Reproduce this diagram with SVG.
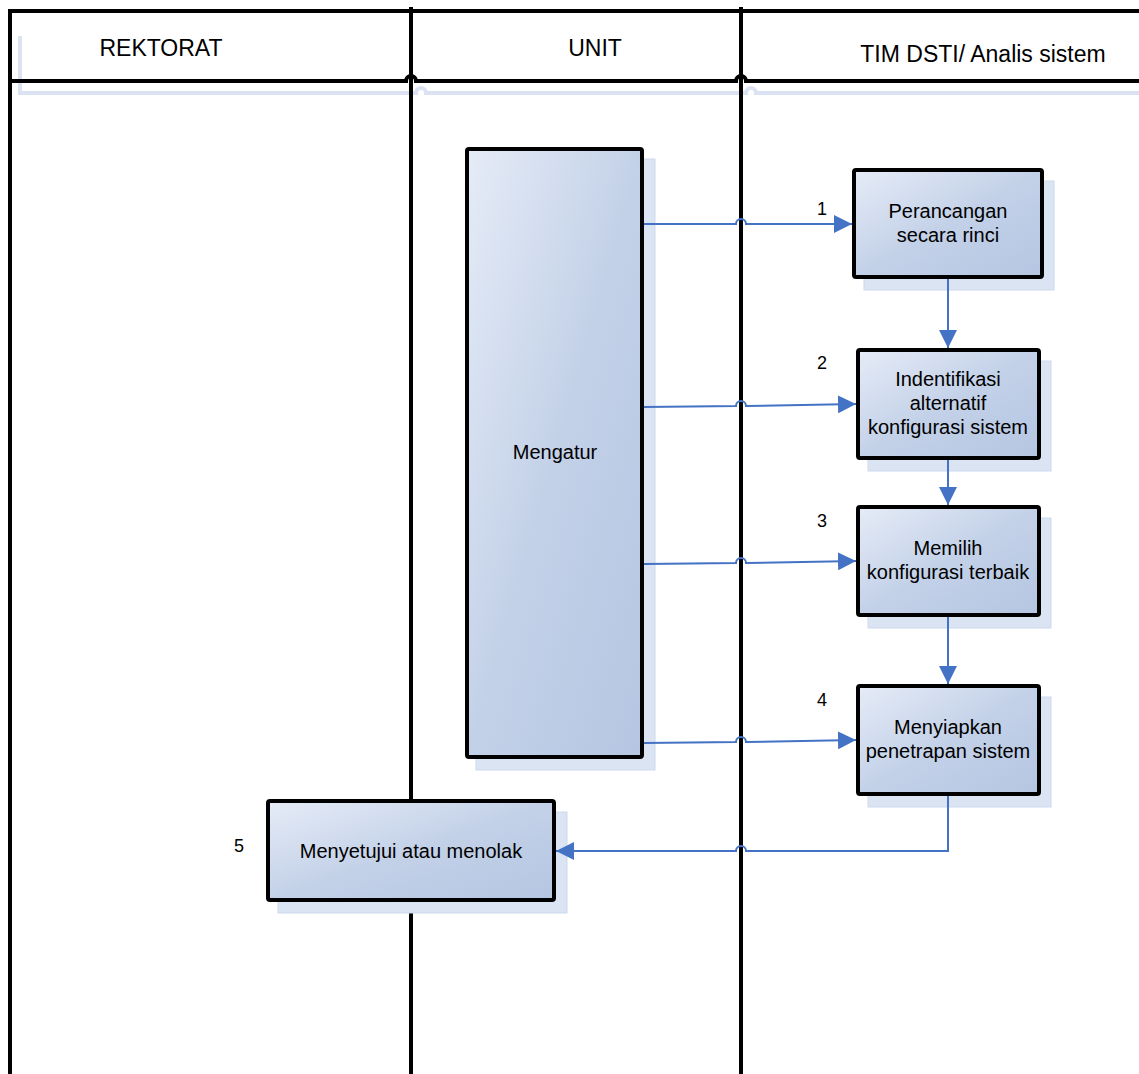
<svg xmlns="http://www.w3.org/2000/svg" width="1139" height="1074" viewBox="0 0 1139 1074">
<style>
.lane{stroke:#000;stroke-width:4;fill:none}
.hshadow{stroke:#dbe3f2;stroke-width:4;fill:none}
.box{stroke:#000;stroke-width:4;fill:url(#g)}
.shadow{fill:#dbe4f3;stroke:#cdd9ee;stroke-width:1}
.conn{stroke:#4472c4;stroke-width:2;fill:none}
.t{font-family:"Liberation Sans",Arial,sans-serif;font-size:20px;fill:#000;text-anchor:middle}
.h{font-family:"Liberation Sans",Arial,sans-serif;font-size:23px;fill:#000;text-anchor:middle}
.n{font-family:"Liberation Sans",Arial,sans-serif;font-size:18px;fill:#000;text-anchor:middle}
</style>
<defs>
<linearGradient id="g" x1="0" y1="0" x2="1" y2="1">
<stop offset="0" stop-color="#e6ecf7"/>
<stop offset="0.5" stop-color="#c3d1e8"/>
<stop offset="1" stop-color="#b5c6e2"/>
</linearGradient>
<marker id="arr" viewBox="0 0 10 10" refX="10" refY="5" markerWidth="9" markerHeight="9" orient="auto" markerUnits="strokeWidth">
<path d="M0,0 L10,5 L0,10 Z" fill="#4472c4"/>
</marker>
</defs>
<rect width="1139" height="1074" fill="#fff"/>
<g id="header">
<path class="hshadow" d="M20,36 V93 H416 A5 5 0 0 1 426,93 H746 A5 5 0 0 1 756,93 H1139"/>
<path class="lane" d="M10,11 H1139"/>
<path class="lane" d="M10,81 H406 A5 5 0 0 1 416,81 H736 A5 5 0 0 1 746,81 H1139"/>
<path class="lane" d="M10,9 V1074"/>
<path class="lane" d="M411,7 V1074"/>
<path class="lane" d="M741,7 V1074"/>
<text class="h" x="161" y="56">REKTORAT</text>
<text class="h" x="595" y="56">UNIT</text>
<text class="h" x="983" y="62">TIM DSTI/ Analis sistem</text>
</g>
<g id="mengatur">
<rect class="shadow" x="476" y="159" width="179" height="611"/>
<rect class="box" x="467" y="149" width="175" height="608" rx="2"/>
<text class="t" x="555" y="459">Mengatur</text>
</g>
<g id="step1">
<rect class="shadow" x="864" y="181" width="190" height="109"/>
<rect class="box" x="854" y="170" width="188" height="107" rx="2"/>
<text class="t" x="948" y="218">Perancangan</text>
<text class="t" x="948" y="242">secara rinci</text>
<text class="n" x="822" y="215">1</text>
</g>
<g id="step2">
<rect class="shadow" x="868" y="361" width="183" height="110"/>
<rect class="box" x="858" y="350" width="181" height="108" rx="2"/>
<text class="t" x="948" y="386">Indentifikasi</text>
<text class="t" x="948" y="410">alternatif</text>
<text class="t" x="948" y="434">konfigurasi sistem</text>
<text class="n" x="822" y="369">2</text>
</g>
<g id="step3">
<rect class="shadow" x="868" y="518" width="183" height="110"/>
<rect class="box" x="858" y="507" width="181" height="108" rx="2"/>
<text class="t" x="948" y="555">Memilih</text>
<text class="t" x="948" y="579">konfigurasi terbaik</text>
<text class="n" x="822" y="527">3</text>
</g>
<g id="step4">
<rect class="shadow" x="868" y="697" width="183" height="110"/>
<rect class="box" x="858" y="686" width="181" height="108" rx="2"/>
<text class="t" x="948" y="734">Menyiapkan</text>
<text class="t" x="948" y="758">penetrapan sistem</text>
<text class="n" x="822" y="706">4</text>
</g>
<g id="step5">
<rect class="shadow" x="278" y="812" width="289" height="101"/>
<rect class="box" x="268" y="801" width="286" height="99" rx="2"/>
<text class="t" x="411" y="858">Menyetujui atau menolak</text>
<text class="n" x="239" y="852">5</text>
</g>
<g id="connectors">
<path class="conn" d="M644,224 H736 A5 5 0 0 1 746,224 H852" marker-end="url(#arr)"/>
<path class="conn" d="M644,407 L736,406 A5 5 0 0 1 746,406 L856,404" marker-end="url(#arr)"/>
<path class="conn" d="M644,564 L736,563 A5 5 0 0 1 746,563 L856,561" marker-end="url(#arr)"/>
<path class="conn" d="M644,743 L736,742 A5 5 0 0 1 746,742 L856,740" marker-end="url(#arr)"/>
<path class="conn" d="M948,279 V348" marker-end="url(#arr)"/>
<path class="conn" d="M948,460 V505" marker-end="url(#arr)"/>
<path class="conn" d="M948,617 V684" marker-end="url(#arr)"/>
<path class="conn" d="M948,796 V851 H746 A5 5 0 0 0 736,851 H556" marker-end="url(#arr)"/>
</g>
</svg>
